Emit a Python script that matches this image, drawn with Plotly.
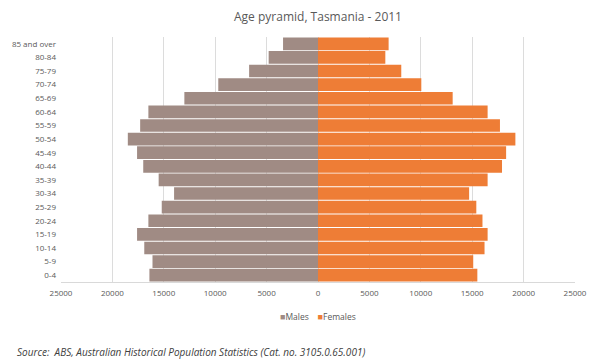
import plotly.graph_objects as go

age_groups = ["0-4", "5-9", "10-14", "15-19", "20-24", "25-29", "30-34", "35-39",
              "40-44", "45-49", "50-54", "55-59", "60-64", "65-69", "70-74",
              "75-79", "80-84", "85 and over"]
males = [16400, 16100, 16900, 17600, 16500, 15200, 14000, 15500,
         17000, 17600, 18500, 17300, 16500, 13000, 9700, 6700, 4800, 3400]
females = [15500, 15100, 16200, 16500, 16000, 15400, 14700, 16500,
           17900, 18300, 19200, 17700, 16500, 13100, 10050, 8100, 6550, 6870]
tick_vals = [-25000, -20000, -15000, -10000, -5000, 0, 5000, 10000, 15000, 20000, 25000]
tick_text = ["25000", "20000", "15000", "10000", "5000", "0", "5000", "10000", "15000", "20000", "25000"]

male_color = "#a08b84"
female_color = "#ee7d36"

fig = go.Figure()
fig.add_trace(go.Bar(y=age_groups, x=[-v for v in males], orientation="h", name="Males",
                     marker=dict(color=male_color, line=dict(width=0)),
                     customdata=males, hovertemplate="%{y}: %{customdata}<extra>Males</extra>"))
fig.add_trace(go.Bar(y=age_groups, x=females, orientation="h", name="Females",
                     marker=dict(color=female_color, line=dict(width=0))))

font_family = "Open Sans, Lato, sans-serif"
fig.update_layout(
    width=600, height=364,
    barmode="relative", bargap=0.07,
    plot_bgcolor="white", paper_bgcolor="white",
    margin=dict(l=61, r=25, t=37, b=82, autoexpand=False),
    title=dict(text="Age pyramid, Tasmania - 2011", x=0.53, xanchor="center", y=0.955, yanchor="middle",
               font=dict(family=font_family, size=12, color="#595959")),
    font=dict(family=font_family, size=8, color="#595959"),
    xaxis=dict(range=[-25000, 25000], tickvals=tick_vals, ticktext=tick_text, automargin=False,
               showgrid=True, gridcolor="#dcdcdc", gridwidth=1, zeroline=False,
               showline=True, linecolor="#d9d9d9", ticks="", ticklabelstandoff=3,
               tickfont=dict(size=8, color="#595959")),
    yaxis=dict(showgrid=False, ticks="", automargin=False, ticklabelstandoff=4,
               tickfont=dict(size=8, color="#595959")),
    showlegend=False,
)
# compact legend, as in the reference
fig.add_annotation(
    text=(f"<span style='color:{male_color};font-size:9px'>■</span>Males&nbsp;&nbsp;&nbsp;&nbsp;"
          f"<span style='color:{female_color};font-size:9px'>■</span>Females"),
    xref="paper", yref="paper", x=0.5, xanchor="center", y=-0.14, yanchor="middle",
    showarrow=False, font=dict(family=font_family, size=8.5, color="#595959"))
fig.add_annotation(text="<i>Source:  ABS, Australian Historical Population Statistics (Cat. no. 3105.0.65.001)</i>",
                   xref="paper", yref="paper", x=-0.09, xanchor="left", y=-0.286, yanchor="middle",
                   showarrow=False, font=dict(family=font_family, size=10, color="#404040"))

fig.write_html("out.html", config={"displayModeBar": False},
               post_script="document.body.style.margin='0';document.body.style.overflow='hidden';")
